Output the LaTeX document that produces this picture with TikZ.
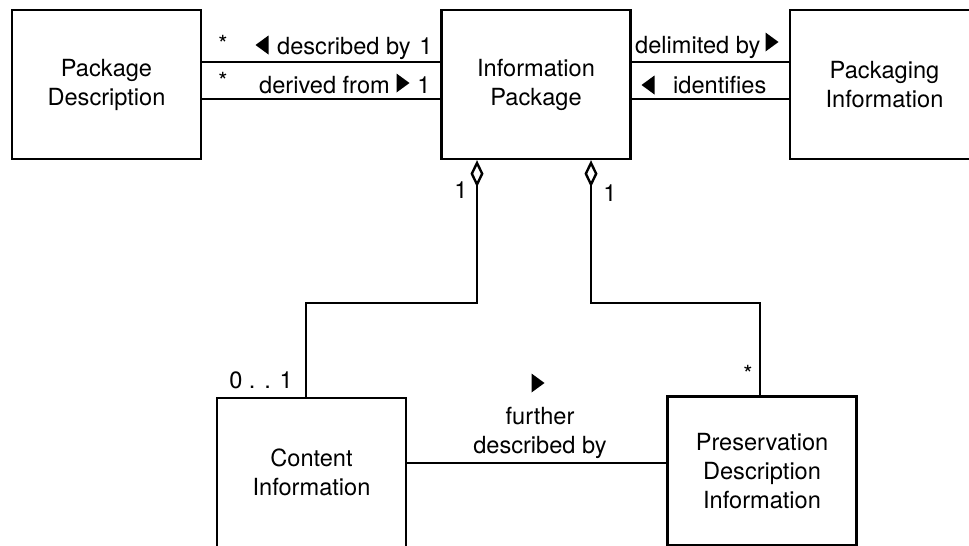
\documentclass[tikz,border=0pt]{standalone}
\usepackage{fontspec}
\setmainfont{TeX Gyre Heros}
\usetikzlibrary{arrows.meta}
\begin{document}
\begin{tikzpicture}[x=1pt, y=-1pt,
  box/.style = {draw, line width=2.4pt, minimum width=189pt, minimum height=149pt, align=center, inner sep=0pt, font=\fontsize{23.6}{29}\selectfont},
  lbl/.style = {inner sep=0pt, font=\fontsize{23.6}{29}\selectfont},
  link/.style = {line width=2.4pt},
  agg/.style = {line width=2.4pt, {Diamond[open, length=27pt, width=13pt]}-}]
\useasboundingbox (0,0) rectangle (969,546);
% classes
\node[box] (pd) at (106.5,84.5) {Package\\Description};
\node[box] (ip) at (536,84.5) {Information\\Package};
\node[box] (pi) at (884.5,84.5) {Packaging\\Information};
\node[box] (ci) at (311.5,472.5) {Content\\Information};
\node[box] (pdi) at (762,471) {Preservation\\Description\\Information};
% associations
\draw[link] ([yshift=22.5pt]pd.east) -- ([yshift=22.5pt]ip.west);
\draw[link] ([yshift=-14.5pt]pd.east) -- ([yshift=-14.5pt]ip.west);
\draw[link] ([yshift=22.5pt]ip.east) -- ([yshift=22.5pt]pi.west);
\draw[link] ([yshift=-14.5pt]ip.east) -- ([yshift=-14.5pt]pi.west);
\draw[link] ([yshift=9.5pt]ci.east) -- ([yshift=9.5pt]ci.east -| pdi.west);
% aggregations
\draw[agg] ([xshift=-59pt]ip.south) -- ++(0,143) -| ([xshift=-5.5pt]ci.north);
\draw[agg] ([xshift=55pt]ip.south) -- ++(0,143) -| ([xshift=-2pt]pdi.north);
% labels
\node[lbl] (descstar) at (223,44) {*};
\node[lbl, anchor=base west] (descby) at (277,54) {described by};
\node[lbl, anchor=base] (descone) at (426,54) {1};
\node[lbl] (derstar) at (223,81) {*};
\node[lbl, anchor=base west] (derfrom) at (259,93) {derived from};
\node[lbl, anchor=base] (derone) at (424,93) {1};
\node[lbl, anchor=base west] (delim) at (635,53) {delimited by};
\node[lbl, anchor=base west] (ident) at (673,93) {identifies};
\node[lbl] (ipcione) at (461,190) {1};
\node[lbl] (ippdione) at (610,193) {1};
\node[lbl] (cimult) at (261,380) {0 . . 1};
\node[lbl] (pdistar) at (748,374) {*};
\node[lbl, align=center] (further) at (540,433) {further\\described by};
% reading directions
\foreach \x/\y/\d in {262/45/-1, 403/83/1, 772/42/1, 648/85/-1, 538/383/1}
  \fill ({\x+6.5*(\d)},\y) -- ({\x-6.5*(\d)},\y-9.5) -- ({\x-6.5*(\d)},\y+9.5) -- cycle;
\end{tikzpicture}
\end{document}
